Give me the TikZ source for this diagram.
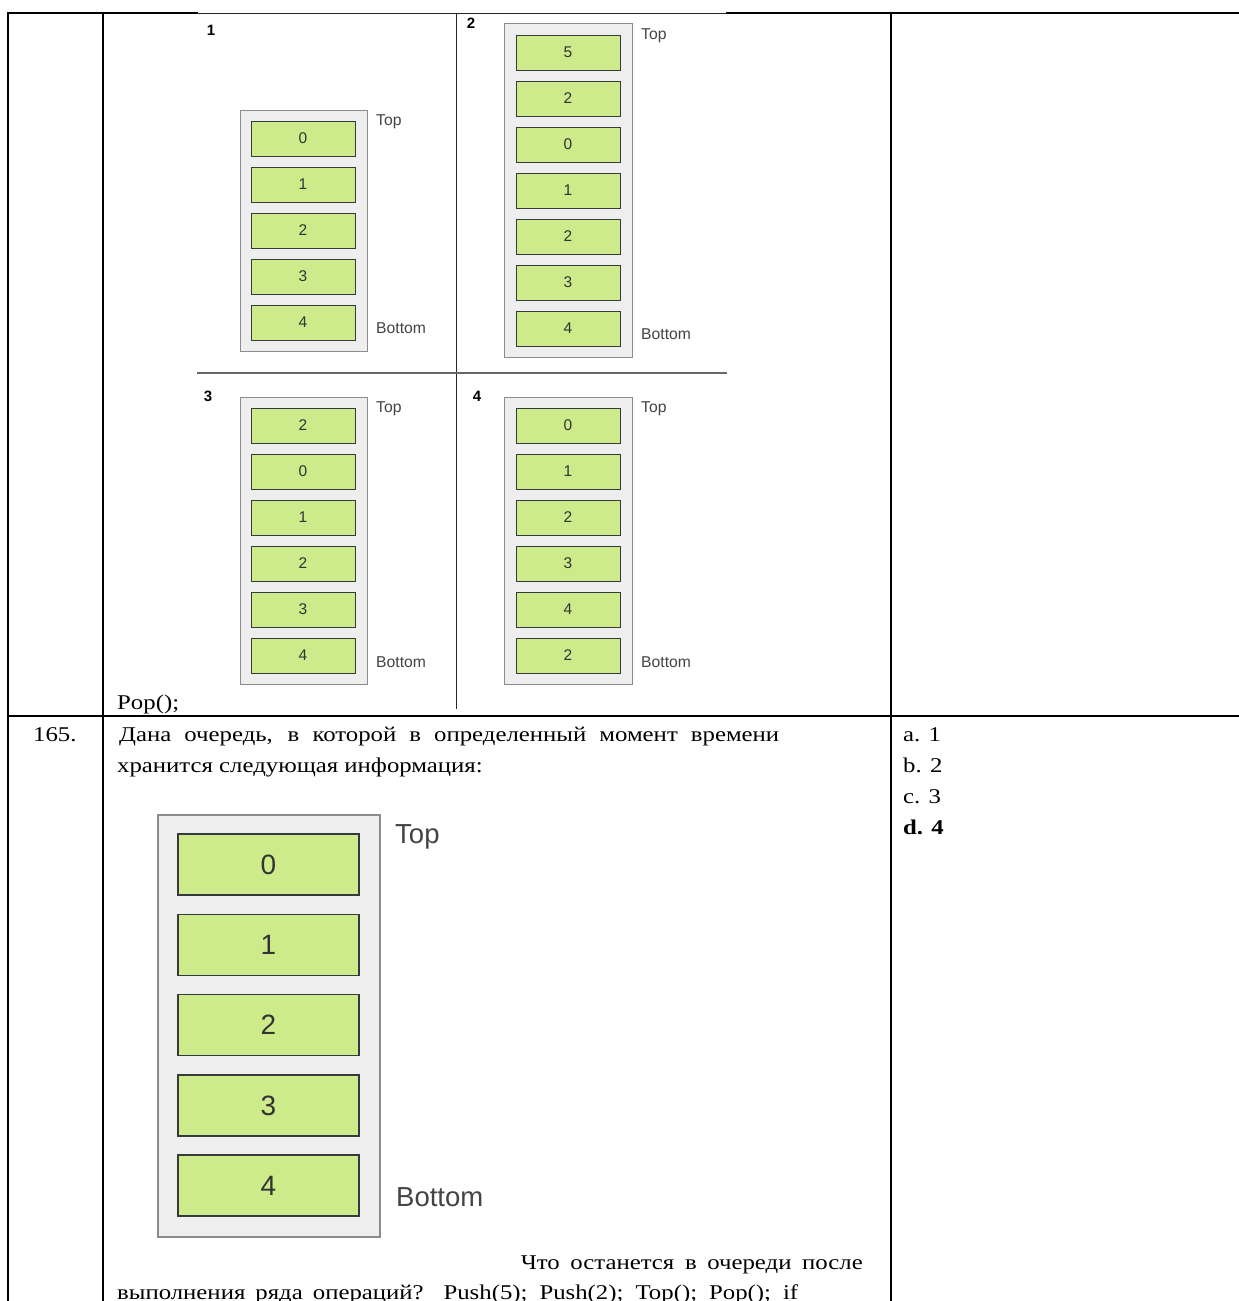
\documentclass[tikz,border=0pt]{standalone}
\usepackage{fontspec}
\setmainfont{Liberation Serif}[FakeStretch=1.18]
\newfontfamily\arialf{Liberation Sans}
\definecolor{boxfill}{HTML}{EEEEEE}
\definecolor{boxgray}{HTML}{8C8C8C}
\definecolor{cellgreen}{HTML}{CDEB8B}
\definecolor{celldark}{HTML}{36393D}
\definecolor{txtgray}{HTML}{333333}
\definecolor{lblgray}{HTML}{444444}
\tikzset{
  tblline/.style={line width=1.8pt, black, line cap=rect},
  imgline/.style={line width=1pt, black!85},
  divline/.style={line width=1.3pt, black!60},
  stackbox/.style={draw=boxgray, fill=boxfill, line width=1pt, anchor=north west, inner sep=0},
  cellsm/.style={draw=celldark, fill=cellgreen, line width=1pt, minimum width=104pt, minimum height=35pt, inner sep=0, font=\arialf\fontsize{15.5}{18}\selectfont, text=txtgray},
  celllg/.style={draw=celldark, fill=cellgreen, line width=1.6pt, minimum width=181pt, minimum height=61pt, inner sep=0, font=\arialf\fontsize{28}{32}\selectfont, text=txtgray},
  lblsm/.style={anchor=west, inner sep=0, font=\arialf\fontsize{15.7}{18}\selectfont, text=lblgray},
  lbllg/.style={anchor=west, inner sep=0, font=\arialf\fontsize{27.5}{32}\selectfont, text=lblgray},
  qnum/.style={inner sep=0, font=\arialf\bfseries\fontsize{15}{18}\selectfont},
  body/.style={anchor=base west, inner sep=0, font=\fontsize{21}{25}\selectfont},
}
\begin{document}
\begin{tikzpicture}[x=1pt,y=-1pt]
\useasboundingbox (0,0) rectangle (1239,1301);
\clip (0,0) rectangle (1239,1301);
\fill[white] (0,0) rectangle (1239,1301);

% table lines
\draw[tblline] (8,13) -- (197,13);
\draw[tblline] (727,13) -- (1239,13);
\draw[tblline] (8,13) -- (8,1305);
\draw[tblline] (103,13) -- (103,1305);
\draw[tblline] (891,13) -- (891,1305);
\draw[tblline] (8,716) -- (1240,716);

% embedded picture frame
\draw[imgline] (197,13) -- (727,13);
\draw[imgline] (456,13) -- (456,709);
\draw[divline] (197,373) -- (727,373);

% quadrant numbers
\node[qnum] (n1) at (211,30) {1};
\node[qnum] (n2) at (471,23) {2};
\node[qnum] (n3) at (208,396) {3};
\node[qnum] (n4) at (477,396) {4};

% stack 1
\node[stackbox, minimum width=127pt, minimum height=241pt] (s1) at (240,110) {};
\foreach \v [count=\i from 0] in {0,1,2,3,4} {\node[cellsm] (a\i) at (303,138.5+46*\i) {\v};}
\node[lblsm] (s1t) at (376,122) {Top};
\node[lblsm] (s1b) at (376,328) {Bottom};

% stack 2
\node[stackbox, minimum width=128pt, minimum height=334pt] (s2) at (504,23) {};
\foreach \v [count=\i from 0] in {5,2,0,1,2,3,4} {\node[cellsm] (b\i) at (568,52.5+46*\i) {\v};}
\node[lblsm] (s2t) at (641,36) {Top};
\node[lblsm] (s2b) at (641,334) {Bottom};

% stack 3
\node[stackbox, minimum width=127pt, minimum height=287pt] (s3) at (240,397) {};
\foreach \v [count=\i from 0] in {2,0,1,2,3,4} {\node[cellsm] (c\i) at (303,425.5+46*\i) {\v};}
\node[lblsm] (s3t) at (376,409) {Top};
\node[lblsm] (s3b) at (376,662) {Bottom};

% stack 4
\node[stackbox, minimum width=128pt, minimum height=287pt] (s4) at (504,397) {};
\foreach \v [count=\i from 0] in {0,1,2,3,4,2} {\node[cellsm] (d\i) at (568,425.5+46*\i) {\v};}
\node[lblsm] (s4t) at (641,409) {Top};
\node[lblsm] (s4b) at (641,662) {Bottom};

% big stack
\node[stackbox, minimum width=222pt, minimum height=422pt, line width=1.6pt] (s5) at (157,814) {};
\foreach \v [count=\i from 0] in {0,1,2,3,4} {\node[celllg] (e\i) at (268.5,864.5+80.3*\i) {\v};}
\node[lbllg] (s5t) at (395,837) {Top};
\node[lbllg] (s5b) at (396,1197) {Bottom};

% texts
\node[body] (pop) at (117,709) {Pop();};
\node[body] (num) at (33,741) {165.};
\node[body] (q1) at (119,741) {\makebox[660pt][s]{Дана очередь, в которой в определенный момент времени}};
\node[body] (q2) at (117,772) {хранится следующая информация:};
\node[body] (ansa) at (903,741) {a. 1};
\node[body] (ansb) at (903,772) {b. 2};
\node[body] (ansc) at (903,803) {c. 3};
\node[body] (ansd) at (903,834) {\bfseries d. 4};
\node[body, anchor=base east] (q3) at (863,1269) {\makebox[342pt][s]{Что останется в очереди после}};
\node[body] (q4) at (117,1299) {\makebox[681pt][s]{выполнения ряда операций? Push(5); Push(2); Top(); Pop(); if}};
\end{tikzpicture}
\end{document}
